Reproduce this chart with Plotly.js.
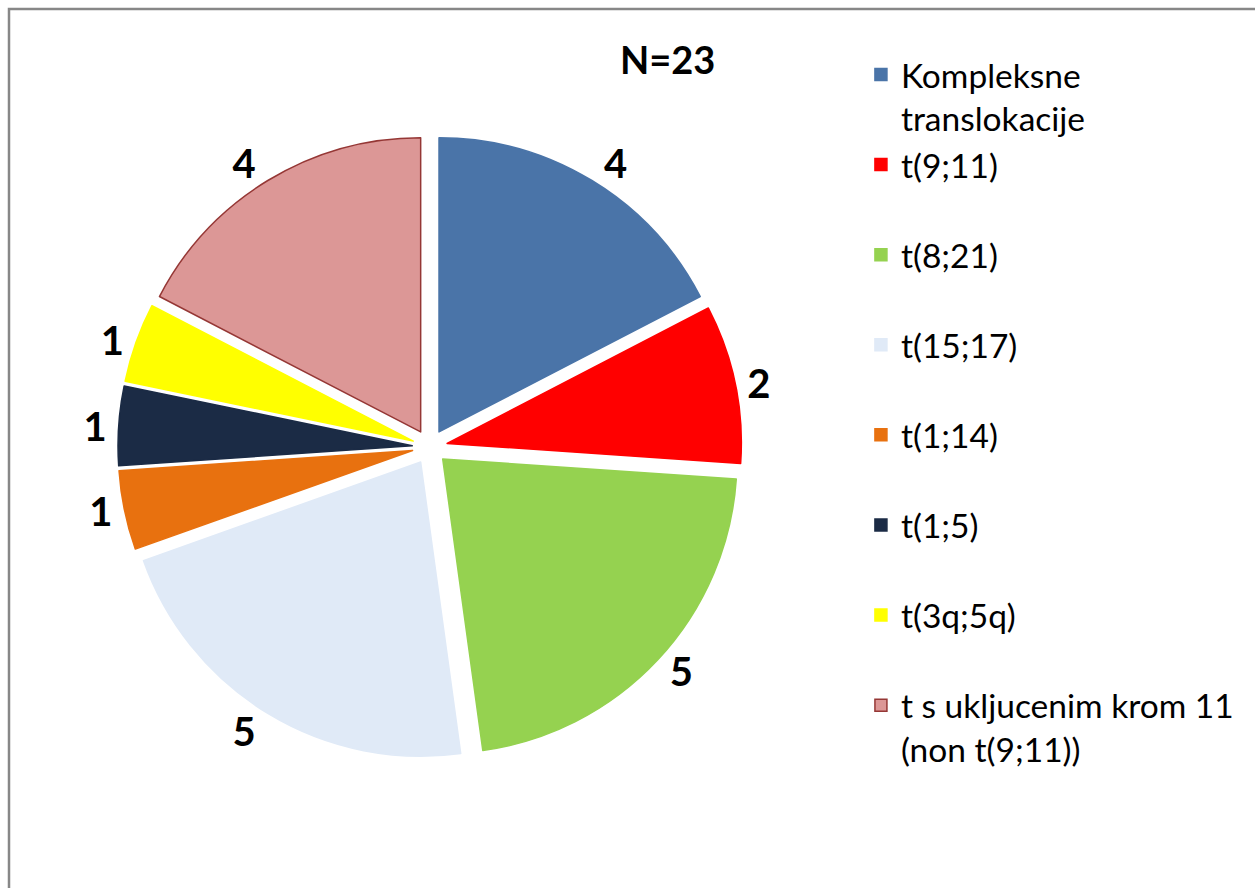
<!DOCTYPE html>
<html>
<head>
<meta charset="utf-8">
<script src="https://cdn.plot.ly/plotly-3.0.1.min.js"></script>
<style>html,body{margin:0;padding:0;background:#fff;}#chart{width:1255px;height:888px;}</style>
</head>
<body>
<div id="chart"></div>
<script>
const categories = ["Kompleksne<br>translokacije", "t(9;11)", "t(8;21)", "t(15;17)", "t(1;14)", "t(1;5)", "t(3q;5q)", "t s ukljucenim krom 11<br>(non t(9;11))"];
const counts = [4, 2, 5, 5, 1, 1, 1, 4];
const sliceColors = ["#4A74A8", "#FF0000", "#95D250", "#E0EAF7", "#E8710F", "#1B2B45", "#FFFF00", "#DC9796"];
const edgeColors = ["#4A74A8", "#FF0000", "#95D250", "#E0EAF7", "#E8710F", "#1B2B45", "#FFFF00", "#953735"];
const chartTitle = "N=23";

// pad single-line legend entries to two lines so every entry has equal height
const legendLabels = categories.map(c => c.includes("<br>") ? c : c + "<br> ");

const trace = {
  type: "pie",
  labels: legendLabels,
  values: counts,
  sort: false,
  direction: "clockwise",
  rotation: 0,
  pull: 0.06,
  marker: {colors: sliceColors, line: {color: edgeColors, width: 1.5}},
  texttemplate: "%{value}",
  textposition: "outside",
  outsidetextfont: {family: "Lato, 'Open Sans', sans-serif", size: 40, color: "#000", weight: "bold"},
  hoverinfo: "label+value",
  domain: {x: [0.094, 0.591], y: [0.1453, 0.848]},
  automargin: false
};

const layout = {
  width: 1255,
  height: 888,
  margin: {l: 0, r: 0, t: 0, b: 0},
  paper_bgcolor: "#fff",
  showlegend: true,
  title: {
    text: "<b>" + chartTitle + "</b>",
    x: 0.532, xanchor: "center",
    y: 0.932, yanchor: "middle",
    font: {family: "Lato, 'Open Sans', sans-serif", size: 38, color: "#000"}
  },
  legend: {
    x: 0.686, xanchor: "left",
    y: 0.948, yanchor: "top",
    valign: "top",
    font: {family: "Lato, 'Open Sans', sans-serif", size: 33.5, color: "#000"},
    bgcolor: "rgba(0,0,0,0)",
    traceorder: "normal"
  },
  shapes: [{
    type: "rect", xref: "paper", yref: "paper",
    x0: 9/1255, x1: 1.05, y0: -0.05, y1: 1 - 9/888,
    line: {color: "#878787", width: 2.5}, fillcolor: "rgba(0,0,0,0)", layer: "above"
  }]
};

Plotly.newPlot("chart", [trace], layout, {displayModeBar: false, staticPlot: true});
</script>
</body>
</html>
